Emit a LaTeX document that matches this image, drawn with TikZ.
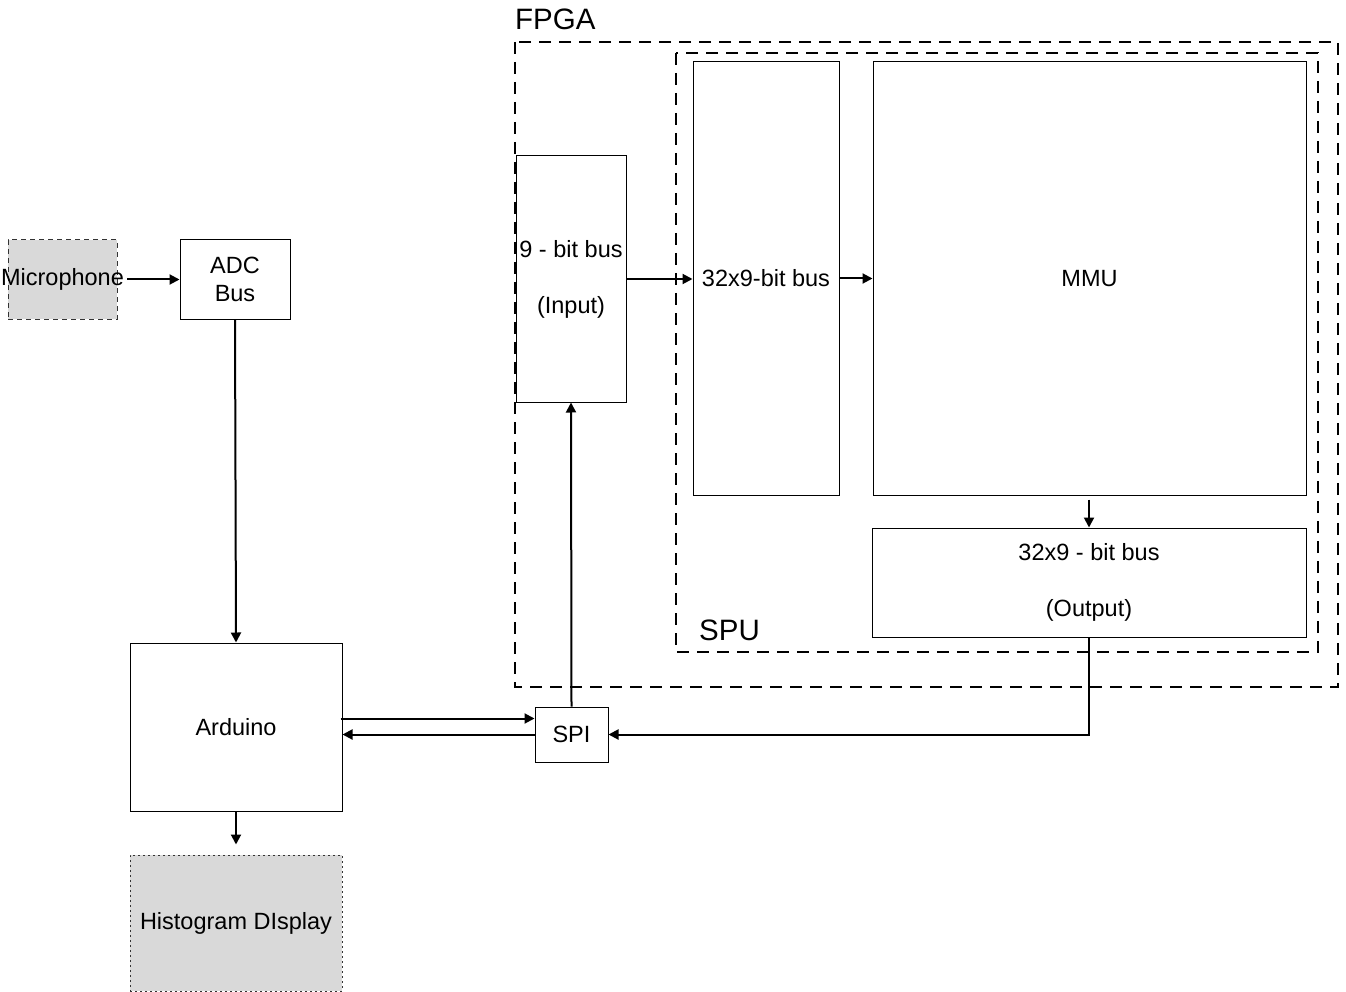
\documentclass[tikz,border=0pt]{standalone}
\usepackage{fontspec}
\setmainfont{Liberation Sans}
\usetikzlibrary{arrows.meta,calc}
\definecolor{boxgray}{HTML}{D9D9D9}
\tikzset{
  box/.style={draw=black, line width=1pt, fill=white, rectangle, inner sep=0pt, align=center, font=\fontsize{23.5}{28}\selectfont},
  graybox/.style={draw=black!80, line width=1pt, fill=boxgray, rectangle, inner sep=0pt},
  container/.style={draw=black, line width=2pt, dash pattern=on 12pt off 8pt},
  arr/.style={draw=black, line width=2pt, -{Triangle[length=10pt,width=10pt]}},
  lbl/.style={font=\fontsize{23.5}{28}\selectfont, inner sep=0pt, align=center},
  biglbl/.style={font=\fontsize{29.5}{32}\selectfont, inner sep=0pt, anchor=base west},
}
\begin{document}
\begin{tikzpicture}[x=1pt,y=-1pt]
\useasboundingbox (0,0) rectangle (1346,992);
% containers
\draw[container] (515,42) rectangle (1338,687);
\draw[container] (676,53) rectangle (1318,652);
\node[biglbl] (fpgalbl) at (515,30) {FPGA};
\node[biglbl] (spulbl) at (699,640) {SPU};
% microphone
\node[graybox, dash pattern=on 5pt off 4pt, minimum width=109pt, minimum height=79pt] (mic) at (62.5,279.5) {};
\node[lbl] (mictext) at (mic.center) {Microphone};
\node[box, minimum width=110pt, minimum height=79pt] (adc) at (235,279.5) {ADC\\Bus};
\node[box, minimum width=212pt, minimum height=168pt] (ard) at (236,727) {Arduino};
\node[graybox, dash pattern=on 2pt off 3pt, minimum width=212pt, minimum height=136pt, align=center, font=\fontsize{23.5}{28}\selectfont] (hist) at (236,923) {Histogram DIsplay};
\node[box, minimum width=73pt, minimum height=55pt] (spi) at (571.5,734.5) {SPI};
% FPGA internals
\node[box, minimum width=110pt, minimum height=246pt] (in) at (571,279) {9 - bit bus\\ \\(Input)};
\node[box, minimum width=146pt, minimum height=433pt] (bus) at (766,278.5) {32x9-bit bus};
\node[box, minimum width=433pt, minimum height=433pt] (mmu) at (1089.5,278.5) {MMU};
\node[box, minimum width=434pt, minimum height=109pt] (out) at (1089,582.5) {32x9 - bit bus\\ \\(Output)};
% connectors
\draw[arr] ([xshift=3pt]mictext.east) -- (mictext.east -| adc.west);
\draw[arr] (adc.south) -- (ard.north);
\draw[arr, shorten >=10pt] (ard.south) -- (hist.north);
\draw[arr] ([yshift=16pt,xshift=-2pt]spi.west -| ard.east) -- ([yshift=16pt]spi.west);
\draw[arr] (spi.west) -- (spi.west -| ard.east);
\draw[arr] (spi.north) -- (in.south);
\draw[arr] (in.east) -- (in.east -| bus.west);
\draw[arr] (bus.east) -- (bus.east -| mmu.west);
\draw[arr, shorten <=4pt] (mmu.south -| out.north) -- (out.north);
\draw[arr] (out.south) |- (spi.east);
\end{tikzpicture}
\end{document}
